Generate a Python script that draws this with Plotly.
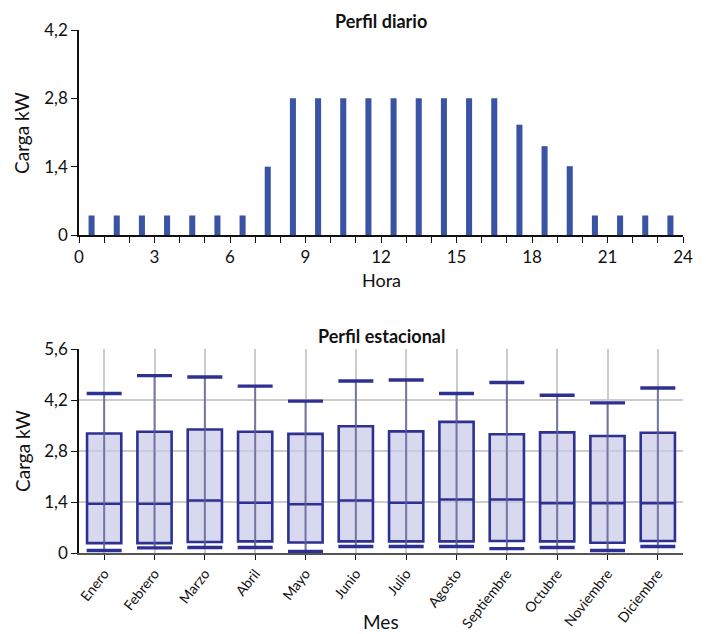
import plotly.graph_objects as go

# ---- Data ----
horas = [h + 0.5 for h in range(24)]
carga_diaria = [0.4, 0.4, 0.4, 0.4, 0.4, 0.4, 0.4, 1.4,
                2.8, 2.8, 2.8, 2.8, 2.8, 2.8, 2.8, 2.8, 2.8,
                2.26, 1.82, 1.41, 0.4, 0.4, 0.4, 0.4]

meses = ["Enero", "Febrero", "Marzo", "Abril", "Mayo", "Junio", "Julio",
         "Agosto", "Septiembre", "Octubre", "Noviembre", "Diciembre"]
bigote_sup = [4.38, 4.87, 4.83, 4.58, 4.17, 4.72, 4.75, 4.38, 4.68, 4.33, 4.12, 4.53]
q3 = [3.28, 3.33, 3.39, 3.33, 3.27, 3.48, 3.34, 3.60, 3.26, 3.31, 3.21, 3.30]
mediana = [1.35, 1.35, 1.44, 1.38, 1.34, 1.44, 1.38, 1.47, 1.47, 1.37, 1.37, 1.37]
q1 = [0.27, 0.27, 0.30, 0.32, 0.29, 0.32, 0.32, 0.32, 0.33, 0.32, 0.28, 0.33]
bigote_inf = [0.07, 0.14, 0.15, 0.15, 0.04, 0.18, 0.18, 0.18, 0.12, 0.15, 0.07, 0.18]

y_ticks_top = [0, 1.4, 2.8, 4.2]
y_ticks_bot = [0, 1.4, 2.8, 4.2, 5.6]
x_ticks_top = list(range(0, 25, 3))

FONT = "Lato, Open Sans, sans-serif"
NAVY = "#2e3192"
BAR = "#3a53a4"

# page body has an 8px margin; lay out in window pixel coordinates
OFF = 8
W, H = 706 - OFF, 634 - OFF
def px(x):
    return (x - OFF) / W
def py(y):
    return 1 - (y - OFF) / H

fig = go.Figure()

# Top: daily profile
fig.add_trace(go.Bar(x=horas, y=carga_diaria, width=0.24, marker=dict(color=BAR, line=dict(width=0)),
                     xaxis="x", yaxis="y", showlegend=False))

# Bottom: seasonal boxes (box body only)
fig.add_trace(go.Box(x=meses, q1=q1, median=mediana, q3=q3, lowerfence=q1, upperfence=q3,
                     width=0.68, fillcolor="rgba(200,200,232,0.7)",
                     line=dict(color=NAVY, width=2.6), whiskerwidth=1,
                     xaxis="x2", yaxis="y2", showlegend=False, boxpoints=False))

# whisker vertical lines
wx, wy = [], []
for m, lo, hi in zip(meses, bigote_inf, bigote_sup):
    wx += [m, m, None]
    wy += [lo, hi, None]
fig.add_trace(go.Scatter(x=wx, y=wy, mode="lines", line=dict(color="rgba(95,95,150,0.8)", width=2),
                         xaxis="x2", yaxis="y2", showlegend=False, hoverinfo="skip"))
# caps
for vals in (bigote_sup, bigote_inf):
    fig.add_trace(go.Scatter(x=meses, y=vals, mode="markers",
                             marker=dict(symbol="line-ew", size=25, line=dict(color=NAVY, width=3.4)),
                             xaxis="x2", yaxis="y2", showlegend=False, hoverinfo="skip"))

tickfont = dict(family=FONT, size=17, color="#111")

def ann(text, x, y, size=19, angle=0):
    return dict(text=text, x=px(x), y=py(y), xref="paper", yref="paper", showarrow=False,
                textangle=angle, xanchor="center", yanchor="middle",
                font=dict(family=FONT, size=size, color="#111"))

fig.update_layout(
    width=W, height=H,
    margin=dict(l=0, r=0, t=0, b=0),
    paper_bgcolor="white", plot_bgcolor="white",
    separators=",.",
    font=dict(family=FONT, color="#111"),
    xaxis=dict(domain=[px(79), px(683)], anchor="y", range=[0, 24], automargin=False,
               tickvals=x_ticks_top, ticks="outside", ticklen=6, tickcolor="#111",
               minor=dict(dtick=1, ticks="outside", ticklen=6, tickcolor="#111"),
               showline=True, linecolor="#111", linewidth=1.5, showgrid=False, zeroline=False,
               tickfont=tickfont),
    yaxis=dict(domain=[py(235), py(30)], anchor="x", range=[0, 4.2], automargin=False,
               tickvals=y_ticks_top, tickformat=".1~f", ticks="outside", ticklen=6, tickcolor="#111",
               showline=True, linecolor="#111", linewidth=1.5, showgrid=False, zeroline=False,
               tickfont=tickfont),
    xaxis2=dict(domain=[px(79), px(683)], anchor="y2", range=[-0.5, 11.5], automargin=False,
                ticks="outside", ticklen=5, tickcolor="#111", tickangle=-52,
                showline=True, linecolor="#555", linewidth=2, showgrid=True,
                gridcolor="#cccccc", gridwidth=1.5, zeroline=False,
                tickfont=dict(family=FONT, size=14, color="#111")),
    yaxis2=dict(domain=[py(553), py(349)], anchor="x2", range=[0, 5.6], automargin=False,
                tickvals=y_ticks_bot, tickformat=".1~f", ticks="outside", ticklen=6, tickcolor="#111",
                showline=True, linecolor="#111", linewidth=1.5, showgrid=True,
                gridcolor="#cccccc", gridwidth=1.5, zeroline=False,
                tickfont=tickfont),
    annotations=[
        ann("<b>Perfil diario</b>", 381, 21, size=18),
        ann("<b>Perfil estacional</b>", 381, 336, size=18),
        ann("Hora", 381, 280, size=18),
        ann("Mes", 381, 621),
        ann("Carga kW", 22, 133, angle=-90),
        ann("Carga kW", 22, 451, angle=-90),
    ],
)

fig.write_html("out.html")
